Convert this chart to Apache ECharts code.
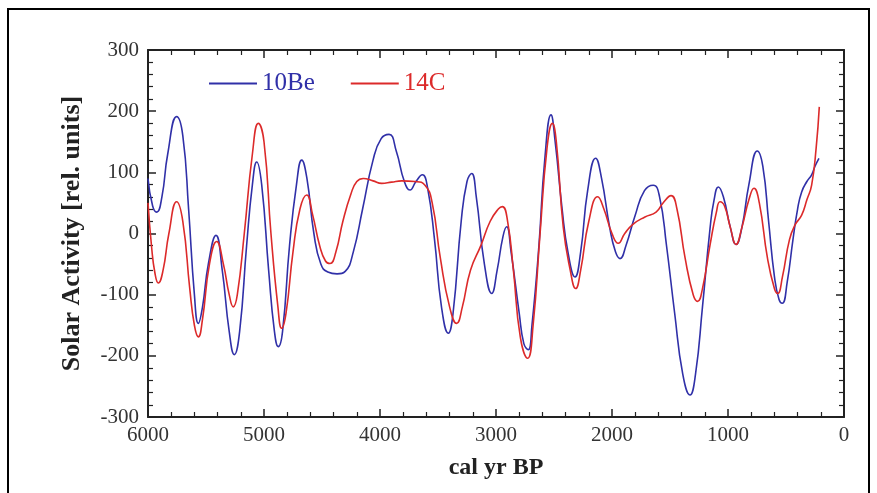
<!DOCTYPE html>
<html>
<head>
<meta charset="utf-8">
<script src="https://cdn.jsdelivr.net/npm/echarts@6/dist/echarts.min.js"></script>
<style>
  html, body { margin: 0; padding: 0; background: #fff; }
  #chart { width: 877px; height: 493px; }
</style>
</head>
<body>
<div id="chart"></div>
<script>
// values: [cal yr BP, activity]
const be10 = [
  [6000, 90], [5960, 45], [5925, 35], [5880, 60], [5830, 130], [5753, 191], [5700, 160],
  [5650, 40], [5600, -100], [5566, -147], [5530, -120], [5480, -50], [5414, -3], [5360, -60],
  [5300, -160], [5256, -198], [5210, -160], [5150, -20], [5100, 80], [5063, 117], [5020, 80],
  [4960, -60], [4910, -160], [4877, -185], [4840, -160], [4780, -20], [4720, 80], [4675, 120],
  [4630, 90], [4570, 0], [4510, -50], [4450, -63], [4370, -66], [4300, -62], [4230, -30],
  [4150, 40], [4060, 120], [3990, 155], [3922, 162], [3860, 135], [3790, 85], [3741, 71],
  [3690, 85], [3635, 96], [3590, 75], [3530, -10], [3470, -120], [3411, -163], [3370, -130],
  [3300, 20], [3250, 85], [3210, 98], [3170, 60], [3100, -50], [3037, -98], [2990, -60],
  [2940, -5], [2908, 11], [2870, -30], [2800, -130], [2760, -180], [2722, -190], [2690, -150],
  [2630, -20], [2580, 120], [2526, 194], [2490, 150], [2430, 40], [2380, -30], [2319, -71],
  [2270, -30], [2210, 70], [2141, 123], [2090, 90], [2020, 10], [1970, -30], [1931, -41],
  [1880, -20], [1800, 30], [1720, 70], [1644, 79], [1590, 60], [1530, -20], [1460, -130],
  [1390, -230], [1328, -264], [1280, -230], [1220, -120], [1155, 8], [1120, 55], [1083, 76],
  [1040, 60], [980, 10], [931, -18], [880, 10], [820, 80], [747, 135], [700, 110], [650, 20],
  [600, -70], [560, -108], [532, -114], [490, -80], [440, -10], [400, 40], [365, 68],
  [320, 85], [279, 96], [250, 110], [216, 123]
];
const c14 = [
  [6000, 50], [5970, -20], [5940, -65], [5911, -81], [5870, -60], [5820, 0], [5753, 52],
  [5700, 20], [5640, -90], [5600, -150], [5566, -169], [5530, -140], [5470, -50], [5408, -13],
  [5350, -50], [5300, -100], [5265, -120], [5230, -100], [5170, 0], [5100, 130], [5049, 180],
  [5000, 150], [4940, 0], [4880, -120], [4848, -155], [4810, -130], [4750, -30], [4690, 40],
  [4632, 63], [4580, 30], [4520, -20], [4470, -45], [4431, -49], [4380, -30], [4320, 20],
  [4250, 65], [4200, 85], [4144, 90], [4060, 86], [3985, 82], [3900, 84], [3813, 86],
  [3700, 85], [3612, 79], [3550, 50], [3480, -40], [3400, -120], [3339, -147], [3290, -120],
  [3220, -60], [3129, -19], [3050, 20], [2980, 40], [2945, 44], [2900, 20], [2850, -60],
  [2790, -170], [2727, -204], [2680, -150], [2620, 0], [2560, 140], [2514, 180], [2480, 150],
  [2420, 10], [2362, -58], [2313, -90], [2270, -60], [2200, 20], [2123, 60], [2070, 40],
  [2000, 0], [1946, -16], [1890, 0], [1820, 15], [1716, 27], [1620, 35], [1560, 50],
  [1491, 62], [1440, 40], [1370, -40], [1300, -100], [1262, -111], [1220, -90], [1155, -19],
  [1100, 35], [1069, 52], [1030, 45], [980, 10], [931, -18], [880, 10], [820, 55], [776, 74],
  [730, 50], [660, -40], [600, -90], [572, -98], [530, -70], [470, -10], [422, 14], [365, 30],
  [320, 55], [279, 79], [240, 140], [213, 207]
];
const seriesNames = ['10Be', '14C'];
const seriesColors = ['#3030a8', '#dc2a2a'];

const serif = '"Liberation Serif", "DejaVu Serif", serif';

function xAx(pos, labels) {
  return {
    type: 'value', position: pos, min: 0, max: 6000, interval: 1000, inverse: true,
    axisLine: { show: true, onZero: false, lineStyle: { color: '#222', width: 2 } },
    axisTick: { show: true, inside: true, length: 8, lineStyle: { color: '#222', width: 1.5 } },
    minorTick: { show: true, splitNumber: 5, length: 5, lineStyle: { color: '#222', width: 1.2 } },
    splitLine: { show: false },
    axisLabel: { show: labels, color: '#333', fontFamily: serif, fontSize: 21, margin: 8,
      formatter: v => String(v) },
    name: labels ? 'cal yr BP' : '', nameLocation: 'middle', nameGap: 39,
    nameTextStyle: { color: '#222', fontFamily: serif, fontSize: 24, fontWeight: 'bold' }
  };
}
function yAx(pos, labels) {
  return {
    type: 'value', position: pos, min: -300, max: 300, interval: 100,
    axisLine: { show: true, onZero: false, lineStyle: { color: '#222', width: 2 } },
    axisTick: { show: true, inside: true, length: 8, lineStyle: { color: '#222', width: 1.5 } },
    minorTick: { show: true, splitNumber: 5, length: 5, lineStyle: { color: '#222', width: 1.2 } },
    splitLine: { show: false },
    axisLabel: { show: labels, color: '#333', fontFamily: serif, fontSize: 21, margin: 9 },
    name: labels ? 'Solar Activity [rel. units]' : '', nameLocation: 'middle', nameGap: 63,
    nameTextStyle: { color: '#222', fontFamily: serif, fontSize: 26, fontWeight: 'bold' }
  };
}

const myChart = echarts.init(document.getElementById('chart'));
const option = {
  animation: false,
  backgroundColor: '#fff',
  grid: { left: 148, right: 33, top: 50, bottom: 76 },
  legend: {
    left: 204, top: 66, itemGap: 36, itemWidth: 48, itemHeight: 2, icon: 'rect',
    textStyle: { fontFamily: serif, fontSize: 25 },
    data: seriesNames.map((n, i) => ({ name: n, textStyle: { color: seriesColors[i] } }))
  },
  xAxis: [xAx('bottom', true), xAx('top', false)],
  yAxis: [yAx('left', true), yAx('right', false)],
  graphic: [{
    type: 'rect', silent: true,
    shape: { x: 8, y: 9, width: 861, height: 500 },
    style: { fill: 'none', stroke: '#000', lineWidth: 2 }
  }],
  series: [be10, c14].map((d, i) => ({
    name: seriesNames[i], type: 'line', data: d, smooth: 0.5, symbol: 'none',
    lineStyle: { color: seriesColors[i], width: 1.6 }, itemStyle: { color: seriesColors[i] }
  }))
};
myChart.setOption(option);
</script>
</body>
</html>
